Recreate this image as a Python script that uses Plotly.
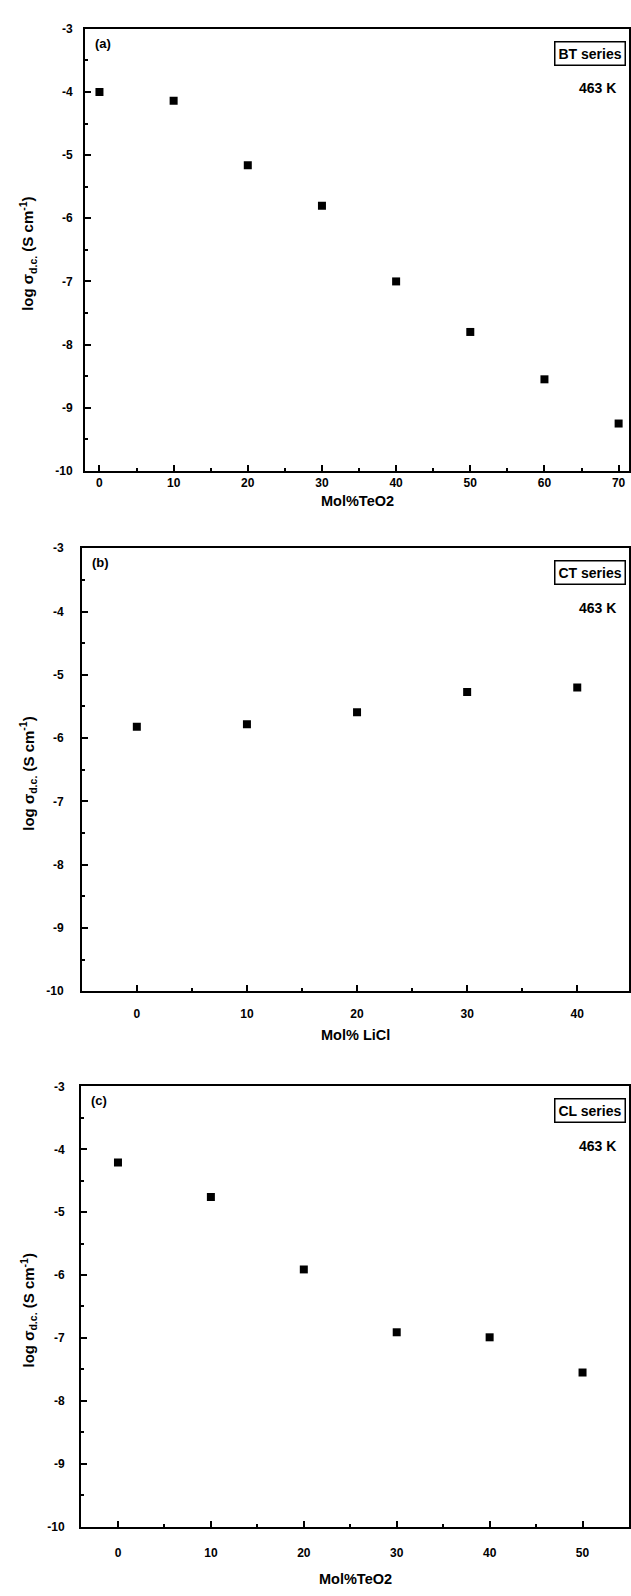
import plotly.graph_objects as go

W, H = 631, 1596

# ---------------- data ----------------
bt_x = [0, 10, 20, 30, 40, 50, 60, 70]
bt_y = [-4.0, -4.14, -5.16, -5.80, -7.00, -7.80, -8.55, -9.25]

ct_x = [0, 10, 20, 30, 40]
ct_y = [-5.82, -5.78, -5.59, -5.27, -5.20]

cl_x = [0, 10, 20, 30, 40, 50]
cl_y = [-4.21, -4.76, -5.91, -6.91, -6.99, -7.55]

y_ticks = [-10, -9, -8, -7, -6, -5, -4, -3]
y_ticklabels = ["-10", "-9", "-8", "-7", "-6", "-5", "-4", "-3"]

bt_xticks = [0, 10, 20, 30, 40, 50, 60, 70]
ct_xticks = [0, 10, 20, 30, 40]
cl_xticks = [0, 10, 20, 30, 40, 50]

panel_labels = ["(a)", "(b)", "(c)"]
series_labels = ["BT series", "CT series", "CL series"]
temp_label = "463 K"
x_titles = ["Mol%TeO2", "Mol% LiCl", "Mol%TeO2"]
y_title = "log σ<sub>d.c.</sub> (S cm<sup>-1</sup>)"

FONT = "Liberation Sans, Arial, sans-serif"

# pixel geometry of each panel
panels = [
    dict(l=85, r=629, t=22, b=468, xr=[-1.95, 71.4], xt=bt_xticks, xs=bt_x, ys=bt_y,
         xlab_off=0, ylab_off=8, xtitle_off=30),
    dict(l=82, r=629, t=546, b=993, xr=[-4.98, 44.7], xt=ct_xticks, xs=ct_x, ys=ct_y,
         xlab_off=10, ylab_off=14, xtitle_off=44),
    dict(l=81, r=629, t=1089, b=1533, xr=[-3.98, 55.0], xt=cl_xticks, xs=cl_x, ys=cl_y,
         xlab_off=14, ylab_off=12, xtitle_off=53),
]


def px(x):
    return x / W


def py(y):
    return 1 - y / H


fig = go.Figure()
annotations = []
layout_axes = {}

for i, p in enumerate(panels):
    n = "" if i == 0 else str(i + 1)
    xa = "x" + n
    ya = "y" + n
    fig.add_trace(go.Scatter(
        x=p["xs"], y=p["ys"], mode="markers",
        marker=dict(symbol="square", size=8, color="black"),
        xaxis=xa, yaxis=ya, showlegend=False, hoverinfo="x+y",
    ))
    layout_axes["xaxis" + n] = dict(
        domain=[px(p["l"]), px(p["r"])], anchor=ya, range=p["xr"],
        tickvals=p["xt"], ticktext=[str(v) for v in p["xt"]],
        ticks="inside", ticklen=6, tickwidth=1.5, tickcolor="black",
        minor=dict(ticks="inside", dtick=5, tick0=0, ticklen=3, tickwidth=1.5, tickcolor="black"),
        showline=True, linecolor="black", linewidth=2, mirror=True,
        showgrid=False, zeroline=False,
        tickfont=dict(family=FONT, size=12, color="black", weight="bold"),
        ticklabelstandoff=p["xlab_off"],
    )
    layout_axes["yaxis" + n] = dict(
        domain=[py(p["b"]), py(p["t"])], anchor=xa, range=[-10, -3],
        tickvals=y_ticks, ticktext=y_ticklabels,
        ticks="inside", ticklen=6, tickwidth=1.5, tickcolor="black",
        minor=dict(ticks="inside", dtick=0.5, tick0=0, ticklen=3, tickwidth=1.5, tickcolor="black"),
        showline=True, linecolor="black", linewidth=2, mirror=True,
        showgrid=False, zeroline=False,
        tickfont=dict(family=FONT, size=12, color="black", weight="bold"),
        ticklabelstandoff=p["ylab_off"],
    )
    # panel label
    annotations.append(dict(
        text=panel_labels[i], xref="paper", yref="paper",
        x=px(p["l"] + 8), y=py(p["t"] + 5), xanchor="left", yanchor="top",
        showarrow=False, font=dict(family=FONT, size=13, color="black", weight="bold"),
    ))
    # series box
    annotations.append(dict(
        text=series_labels[i], xref="paper", yref="paper",
        x=px(p["r"] - 3), y=py(p["t"] + 12), xanchor="right", yanchor="top",
        showarrow=False, font=dict(family=FONT, size=14, color="black", weight="bold"),
        bordercolor="black", borderwidth=1.5, borderpad=3, bgcolor="white",
    ))
    annotations.append(dict(
        text=temp_label, xref="paper", yref="paper",
        x=px(p["r"] - 32), y=py(p["t"] + 60), xanchor="center", yanchor="middle",
        showarrow=False, font=dict(family=FONT, size=14, color="black", weight="bold"),
    ))
    # x title
    annotations.append(dict(
        text=x_titles[i], xref="paper", yref="paper",
        x=px((p["l"] + p["r"]) / 2), y=py(p["b"] + p["xtitle_off"]),
        xanchor="center", yanchor="middle",
        showarrow=False, font=dict(family=FONT, size=14.5, color="black", weight="bold"),
    ))
    # y title
    annotations.append(dict(
        text=y_title, xref="paper", yref="paper",
        x=px(28), y=py((p["t"] + p["b"]) / 2 + 4),
        xanchor="center", yanchor="middle", textangle=-90,
        showarrow=False, font=dict(family=FONT, size=15, color="black", weight="bold"),
    ))

fig.update_layout(
    width=W, height=H, margin=dict(l=0, r=0, t=0, b=0),
    paper_bgcolor="white", plot_bgcolor="white",
    annotations=annotations, **layout_axes,
)

fig.write_html("out.html")
